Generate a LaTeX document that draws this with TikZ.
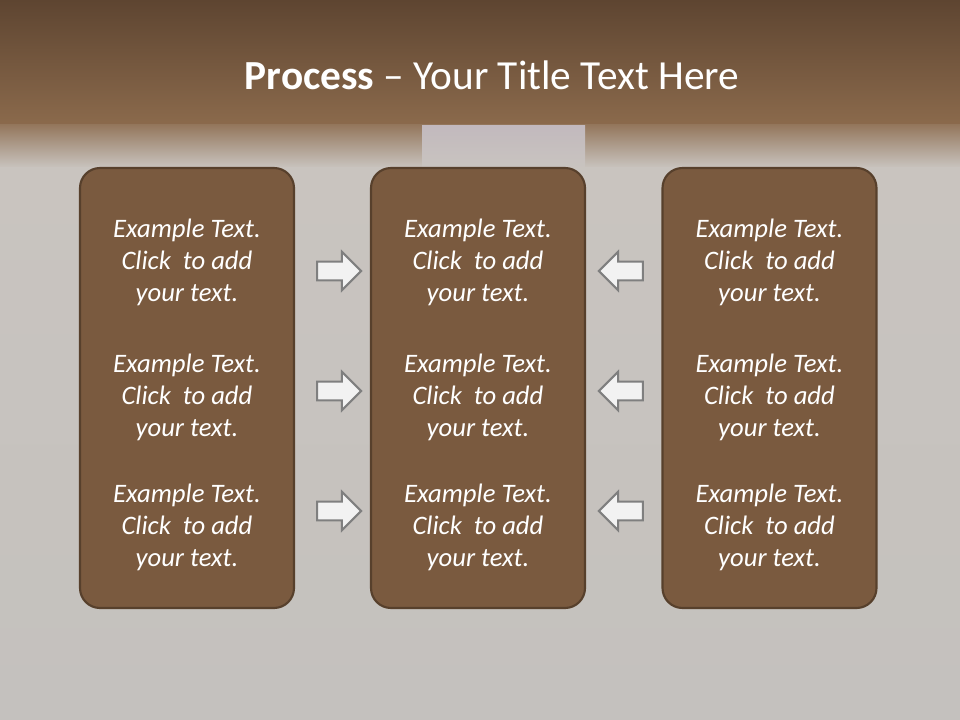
\documentclass[tikz,border=0pt]{standalone}
\usepackage{fontspec}
\setmainfont{Carlito}
\usetikzlibrary{shapes.arrows, positioning}
\definecolor{bandtop}{HTML}{5E4531}
\definecolor{bandlow}{HTML}{8B6A4C}
\definecolor{haze}{HTML}{C9C4BF}
\definecolor{floor}{HTML}{C4C1BE}
\definecolor{window}{HTML}{C2B9BE}
\definecolor{panelfill}{HTML}{7A5A3F}
\definecolor{paneledge}{HTML}{57402C}
\definecolor{arrowfill}{HTML}{F2F2F2}
\definecolor{arrowedge}{HTML}{7F7F7F}

\begin{document}
\begin{tikzpicture}[x=0.75pt, y=-0.75pt,
    panel/.style={draw=paneledge, line width=1.6pt, fill=panelfill, rounded corners=15pt,
      minimum width=160.5pt, minimum height=330pt},
    blurb/.style={text=white, align=center, font=\fontsize{20}{24}\selectfont\itshape},
    pointer/.style={single arrow, draw=arrowedge, line width=1.5pt, fill=arrowfill,
      minimum height=33pt, minimum width=28pt, inner sep=6.2pt, single arrow head extend=7.5pt}]

  \useasboundingbox (0,0) rectangle (960,720);

  % backdrop
  \fill[top color=bandtop, bottom color=bandlow] (0,0) rectangle (960,125);
  \fill[top color=bandlow!85!haze, bottom color=haze] (0,125) rectangle (960,168);
  \fill[top color=haze, bottom color=floor] (0,168) rectangle (960,720);
  \fill[top color=window, bottom color=haze] (422,126) rectangle (585,168);

  \node[text=white, font=\fontsize{31}{37}\selectfont] (title) at (492,75)
    {\textbf{Process} -- Your Title Text Here};

  % the three columns
  \node[panel] (left)  at (187,388)   {};
  \node[panel] (mid)   at (478,388)   {};
  \node[panel] (right) at (769.5,388) {};

  \node[blurb] (l1) at (187,262) {Example Text.\\Click\ \ to add\\your text.};
  \node[blurb] (l2) at (187,397) {Example Text.\\Click\ \ to add\\your text.};
  \node[blurb] (l3) at (187,527) {Example Text.\\Click\ \ to add\\your text.};
  \node[blurb] (m1) at (478,262) {Example Text.\\Click\ \ to add\\your text.};
  \node[blurb] (m2) at (478,397) {Example Text.\\Click\ \ to add\\your text.};
  \node[blurb] (m3) at (478,527) {Example Text.\\Click\ \ to add\\your text.};
  \node[blurb] (r1) at (769.5,262) {Example Text.\\Click\ \ to add\\your text.};
  \node[blurb] (r2) at (769.5,397) {Example Text.\\Click\ \ to add\\your text.};
  \node[blurb] (r3) at (769.5,527) {Example Text.\\Click\ \ to add\\your text.};

  % arrows into the middle column
  \node[pointer] (pl1) at (334.5,271) {};
  \node[pointer] (pl2) at (334.5,391) {};
  \node[pointer] (pl3) at (334.5,511) {};
  \node[pointer, shape border rotate=180] (pr1) at (625.5,271) {};
  \node[pointer, shape border rotate=180] (pr2) at (625.5,391) {};
  \node[pointer, shape border rotate=180] (pr3) at (625.5,511) {};
\end{tikzpicture}
\end{document}
